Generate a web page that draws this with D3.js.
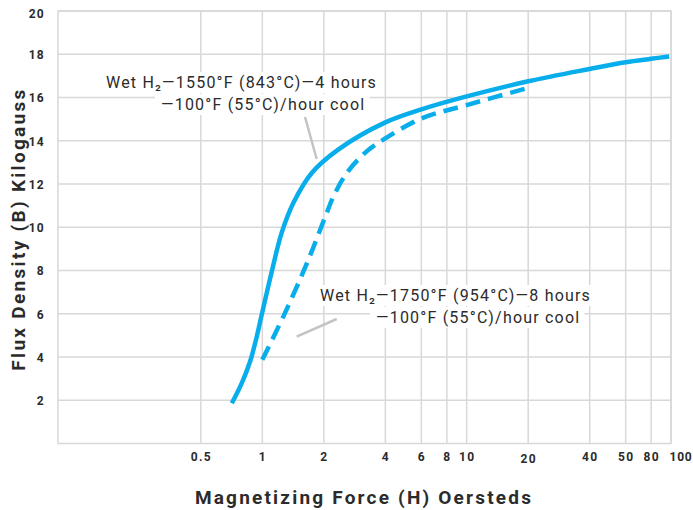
<!DOCTYPE html>
<html><head><meta charset="utf-8">
<script src="https://cdn.jsdelivr.net/npm/d3@7"></script>
<style>
body{margin:0;background:#fff;}
text{font-family:Roboto,"Open Sans",sans-serif;fill:#2b2b2b;}
</style></head>
<body><svg id="c" width="693" height="510"></svg>
<script>
// Data
const xTickValues = [0.5, 1, 2, 4, 6, 8, 10, 20, 40, 60, 80, 100];
const xTickLabels = ["0.5", "1", "2", "4", "6", "8", "10", "20", "40", "50", "80", "100"];
const yTickValues = [2, 4, 6, 8, 10, 12, 14, 16, 18, 20];
const solidH = [0.709, 0.793, 0.871, 0.939, 0.993, 1.111, 1.244, 1.418, 1.745, 2.35, 4.0, 6.0, 10, 20, 40, 60, 80, 98];
const solidB = [1.86, 2.79, 3.79, 4.94, 5.95, 7.93, 9.75, 11.12, 12.51, 13.59, 14.85, 15.45, 16.05, 16.75, 17.32, 17.63, 17.79, 17.9];
const dashH = [1.0, 1.29, 1.68, 2.05, 2.23, 2.59, 3.18, 3.91, 6.0, 10, 20.4];
const dashB = [3.87, 6.03, 8.5, 10.58, 11.43, 12.51, 13.44, 14.05, 15.03, 15.65, 16.47];
const label1 = ["Wet H\u2082\u20141550\u00B0F (843\u00B0C)\u20144 hours", "\u2014100\u00B0F (55\u00B0C)/hour cool"];
const label2 = ["Wet H\u2082\u20141750\u00B0F (954\u00B0C)\u20148 hours", "\u2014100\u00B0F (55\u00B0C)/hour cool"];

const svg = d3.select("#c");
const x = d3.scaleLog().domain([0.1, 100]).range([58, 671]);
const y = d3.scaleLinear().domain([0, 20]).range([443.5, 11]);
const gridColor = "#d8d8d8";

// grid
const g = svg.append("g");
g.selectAll(".vg").data(xTickValues).enter().append("line")
  .attr("x1", d => x(d)).attr("x2", d => x(d)).attr("y1", y(20)).attr("y2", y(0))
  .attr("stroke", gridColor).attr("stroke-width", 1.5);
g.selectAll(".hg").data(yTickValues).enter().append("line")
  .attr("x1", x(0.1)).attr("x2", x(100)).attr("y1", d => y(d)).attr("y2", d => y(d))
  .attr("stroke", gridColor).attr("stroke-width", 1.5);
g.append("rect").attr("x", x(0.1)).attr("y", y(20)).attr("width", x(100) - x(0.1)).attr("height", y(0) - y(20))
  .attr("fill", "none").attr("stroke", gridColor).attr("stroke-width", 1.5);

// axes (labels via d3 axes, domain/ticks hidden)
const xAxis = d3.axisBottom(x).tickValues(xTickValues).tickFormat((d, i) => xTickLabels[i]).tickSize(0).tickPadding(0);
const xa = svg.append("g").attr("transform", "translate(0,461)").call(xAxis);
xa.select(".domain").remove();
const lastI = xTickValues.length - 1;
xa.selectAll("text").attr("dy", 0).style("font-size", "12px").style("font-weight", "700")
  .style("letter-spacing", (d, i) => i === lastI ? "0.8px" : "1.3px").attr("fill", "#2b2b2b")
  .attr("text-anchor", (d, i) => i === lastI ? "start" : "middle")
  .attr("x", (d, i) => i === lastI ? -2 : 0)
  .attr("y", (d, i) => xTickLabels[i] === "20" ? 2 : 0);

const yAxis = d3.axisLeft(y).tickValues(yTickValues).tickFormat(d3.format("d")).tickSize(0).tickPadding(0);
const ya = svg.append("g").attr("transform", "translate(45,0)").call(yAxis);
ya.select(".domain").remove();
ya.selectAll("text").attr("dy", "0.36em").attr("x", 0).style("font-size", "12px").style("font-weight", "700")
  .style("letter-spacing", "1.3px").attr("fill", "#2b2b2b")
  .attr("y", d => d === 20 ? 2 : 0);

// titles
svg.append("text").attr("x", 364).attr("y", 504).attr("text-anchor", "middle")
  .style("font-size", "19px").style("font-weight", "700").style("letter-spacing", "2.2px")
  .text("Magnetizing Force (H) Oersteds");
svg.append("text").attr("transform", "translate(25,229) rotate(-90)").attr("text-anchor", "middle")
  .style("font-size", "19px").style("font-weight", "700").style("letter-spacing", "2.3px")
  .text("Flux Density (B) Kilogauss");

// annotations
function annot(lines, ys, xs) {
  const grp = svg.append("g");
  lines.forEach((t, i) => {
    const tx = grp.append("text").attr("x", xs[i]).attr("y", ys[i])
      .style("font-size", "16px").style("letter-spacing", "1.2px").text(t);
    const bb = tx.node().getBBox();
    grp.insert("rect", "text").attr("x", bb.x - 6).attr("y", bb.y - 1).attr("width", bb.width + 10).attr("height", bb.height + 2).attr("fill", "#fff");
  });
}
annot(label1, [88, 110], [106, 161]);
annot(label2, [301, 323], [320, 376]);

// leader lines
svg.append("line").attr("x1", 305).attr("y1", 117).attr("x2", 316.7).attr("y2", 159)
  .attr("stroke", "#c4c4c4").attr("stroke-width", 2.5);
svg.append("line").attr("x1", 336.7).attr("y1", 319).attr("x2", 296.7).attr("y2", 336.7)
  .attr("stroke", "#c4c4c4").attr("stroke-width", 2.5);

// curves
const curveColor = "#08aeeb";
const line = d3.line().x(d => x(d[0])).y(d => y(d[1])).curve(d3.curveCatmullRom.alpha(0.5));
svg.append("path").attr("d", line(d3.zip(solidH, solidB))).attr("fill", "none")
  .attr("stroke", curveColor).attr("stroke-width", 4.5);
svg.append("path").attr("d", line(d3.zip(dashH, dashB))).attr("fill", "none")
  .attr("stroke", curveColor).attr("stroke-width", 4.5).attr("stroke-dasharray", "15,8");
</script></body></html>
